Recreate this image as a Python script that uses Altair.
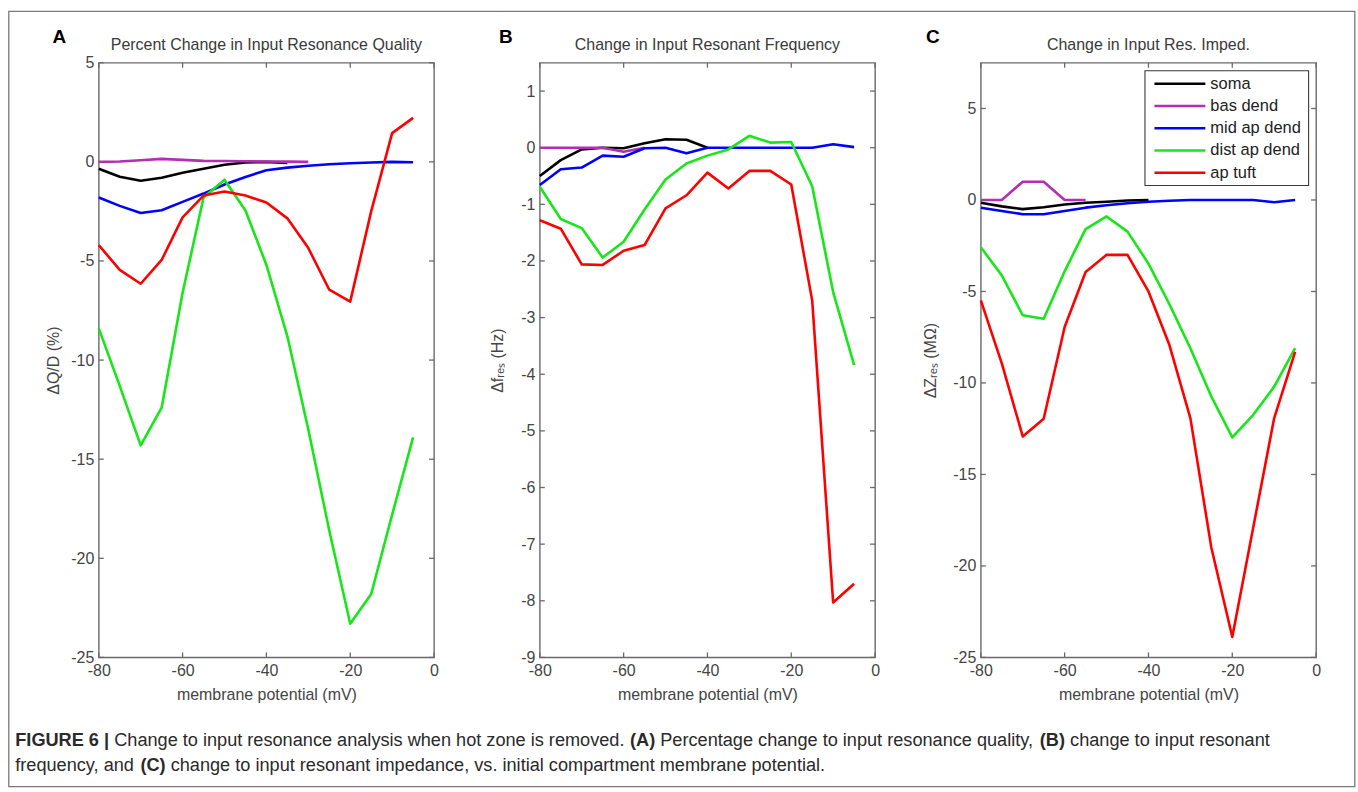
import altair as alt
import pandas as pd

# ---------------- data ----------------
V = [-80, -75, -70, -65, -60, -55, -50, -45, -40, -35, -30, -25, -20, -15, -10, -5]
SERIES = ["soma", "bas dend", "mid ap dend", "dist ap dend", "ap tuft"]
COLORS = ["#000000", "#b52cb5", "#0000ff", "#18e618", "#ff0000"]
N = None

# Panel A: percent change in input resonance quality
A_SOMA = [-0.35, -0.75, -0.95, -0.8, -0.55, -0.35, -0.15, -0.03, 0.0, -0.05, N, N, N, N, N, N]
A_BAS = [0.0, 0.02, 0.08, 0.15, 0.1, 0.05, 0.04, 0.03, 0.02, 0.01, 0.0, N, N, N, N, N]
A_MID = [-1.8, -2.22, -2.58, -2.44, -2.02, -1.6, -1.14, -0.76, -0.42, -0.29, -0.2, -0.12, -0.07, -0.03, 0.0, -0.02]
A_DIST = [-8.4, -11.3, -14.3, -12.4, -6.6, -1.8, -0.9, -2.45, -5.2, -8.8, -13.5, -18.6, -23.3, -21.8, -17.8, -13.9]
A_TUFT = [-4.2, -5.45, -6.15, -4.95, -2.8, -1.7, -1.5, -1.7, -2.05, -2.85, -4.35, -6.45, -7.05, -2.5, 1.45, 2.22]

# Panel B: change in input resonant frequency
B_SOMA = [-0.5, -0.22, -0.03, 0.0, -0.01, 0.08, 0.15, 0.14, 0.0, N, N, N, N, N, N, N]
B_BAS = [0.0, 0.0, 0.0, 0.0, -0.07, 0.0, N, N, N, N, N, N, N, N, N, N]
B_MID = [-0.66, -0.38, -0.35, -0.14, -0.16, -0.01, 0.0, -0.1, 0.0, 0.0, 0.0, 0.0, 0.0, 0.0, 0.06, 0.01]
B_DIST = [-0.69, -1.26, -1.42, -1.94, -1.66, -1.09, -0.56, -0.28, -0.14, -0.03, 0.21, 0.09, 0.1, -0.68, -2.55, -3.84]
B_TUFT = [-1.28, -1.43, -2.06, -2.07, -1.82, -1.72, -1.07, -0.84, -0.44, -0.72, -0.41, -0.41, -0.65, -2.7, -8.03, -7.7]

# Panel C: change in input resonant impedance
C_SOMA = [-0.15, -0.35, -0.5, -0.4, -0.25, -0.15, -0.1, -0.03, 0.0, N, N, N, N, N, N, N]
C_BAS = [0.0, 0.0, 1.0, 1.0, 0.0, 0.0, N, N, N, N, N, N, N, N, N, N]
C_MID = [-0.42, -0.6, -0.78, -0.78, -0.6, -0.42, -0.29, -0.18, -0.1, -0.04, 0.0, 0.0, 0.0, 0.0, -0.12, 0.0]
C_DIST = [-2.58, -4.12, -6.3, -6.49, -3.9, -1.59, -0.9, -1.73, -3.48, -5.7, -8.1, -10.74, -12.97, -11.74, -10.2, -8.1]
C_TUFT = [-5.49, -8.93, -12.92, -11.96, -6.94, -3.94, -3.0, -3.0, -5.0, -7.93, -11.92, -18.99, -23.88, -17.9, -11.92, -8.3]

X_TICKS = [-80, -60, -40, -20, 0]
A_YTICKS = [5, 0, -5, -10, -15, -20, -25]
B_YTICKS = [1, 0, -1, -2, -3, -4, -5, -6, -7, -8, -9]
C_YTICKS = [5, 0, -5, -10, -15, -20, -25]

TITLES = ["Percent Change in Input Resonance Quality",
          "Change in Input Resonant Frequency",
          "Change in Input Res. Imped."]
Y_TITLES = ["\u0394Q/D (%)", "\u0394f\u1d63\u2091\u209b (Hz)", "\u0394Z\u1d63\u2091\u209b (M\u03a9)"]
X_TITLE = "membrane potential (mV)"

CAPTION_1 = [("FIGURE 6 |", True), ("Change to input resonance analysis when hot zone is removed.", False),
             ("(A)", True), ("Percentage change to input resonance quality,", False),
             ("(B)", True), ("change to input resonant", False)]
CAPTION_2 = [("frequency, and", False), ("(C)", True),
             ("change to input resonant impedance, vs. initial compartment membrane potential.", False)]

# ---------------- styling ----------------
W, H = 336, 596
FONT = "Liberation Sans"
AXC = "#6a6a6a"
LBL = "#454545"
one = pd.DataFrame({"k": [0]})

# Arial / Liberation Sans advance widths (per 1000 em) to lay out mixed bold caption text
REG = {" ": 278, "(": 333, ")": 333, ",": 278, ".": 278, "|": 260, "-": 333,
       "a": 556, "b": 556, "c": 500, "d": 556, "e": 556, "f": 278, "g": 556, "h": 556, "i": 222,
       "j": 222, "k": 500, "l": 222, "m": 833, "n": 556, "o": 556, "p": 556, "q": 556, "r": 333,
       "s": 500, "t": 278, "u": 556, "v": 500, "w": 722, "x": 500, "y": 500, "z": 500,
       "C": 722, "P": 667}
BOLD = {" ": 278, "(": 333, ")": 333, "|": 280, "6": 556, "A": 722, "B": 722, "C": 722,
        "E": 667, "F": 611, "G": 778, "I": 278, "R": 722, "U": 722}


def tw(s, bold):
    tab = BOLD if bold else REG
    return sum(tab.get(ch, 556) for ch in s) / 1000.0


def long_df(cols):
    rows = []
    for name, vals in zip(SERIES, cols):
        for x, y in zip(V, vals):
            if y is not None:
                rows.append({"mV": x, "val": y, "series": name})
    return pd.DataFrame(rows)


def text_layer(text, x, y, size, weight="normal", color="#000000", align="left"):
    return alt.Chart(one).mark_text(
        text=text, font=FONT, fontSize=size, fontWeight=weight, color=color,
        align=align, baseline="middle").encode(x=alt.value(x), y=alt.value(y))


def panel(cols, title, ydom, yticks, ytitle, ytitle_x, letter, letter_x, extra_front=None, extra_back=None):
    xs = alt.Scale(domain=[-80, 0], nice=False, zero=False)
    ys = alt.Scale(domain=ydom, nice=False, zero=False)
    xaxis = alt.Axis(values=X_TICKS, title=X_TITLE, ticks=False, domain=False, grid=False,
                     labelFlush=False, labelPadding=5, labelExpr="datum.value + ''",
                     titleX=W / 2, titleY=37, titleAlign="center", titleBaseline="middle")
    yaxis = alt.Axis(values=yticks, title=ytitle, ticks=False, domain=False, grid=False,
                     labelFlush=False, labelPadding=5, labelExpr="datum.value + ''",
                     titleX=ytitle_x, titleY=H / 2, titleAngle=270, titleAlign="center",
                     titleBaseline="middle")
    lines = alt.Chart(long_df(cols)).mark_line(strokeWidth=2.6, strokeJoin="round").encode(
        x=alt.X("mV:Q", scale=xs, axis=xaxis, title=X_TITLE),
        y=alt.Y("val:Q", scale=ys, axis=yaxis, title=ytitle),
        color=alt.Color("series:N", scale=alt.Scale(domain=SERIES, range=COLORS), legend=None,
                        sort=SERIES),
    )
    xt = pd.DataFrame({"t": X_TICKS})
    yt = pd.DataFrame({"t": yticks})
    tick = dict(color=AXC, strokeWidth=1.3)
    tb = alt.Chart(xt).mark_rule(**tick).encode(x=alt.X("t:Q", scale=xs, axis=xaxis, title=X_TITLE),
                                                y=alt.value(H), y2=alt.value(H - 5))
    tt = alt.Chart(xt).mark_rule(**tick).encode(x=alt.X("t:Q", scale=xs, axis=xaxis, title=X_TITLE),
                                                y=alt.value(0), y2=alt.value(5))
    tl = alt.Chart(yt).mark_rule(**tick).encode(y=alt.Y("t:Q", scale=ys, axis=yaxis, title=ytitle),
                                                x=alt.value(0), x2=alt.value(5))
    tr = alt.Chart(yt).mark_rule(**tick).encode(y=alt.Y("t:Q", scale=ys, axis=yaxis, title=ytitle),
                                                x=alt.value(W), x2=alt.value(W - 5))
    lab = text_layer(letter, letter_x, -26, 19, weight="bold")
    ttl = text_layer(title, W / 2, -18, 16, color="#3a3a3a", align="center")
    layers = (extra_back or []) + [lines, tb, tt, tl, tr, lab, ttl] + (extra_front or [])
    return alt.layer(*layers).properties(width=W, height=H)


# ---- figure border and caption (drawn from panel A, positioned relative to its plot origin) ----
OX, OY = 97.7, 61.0   # page position of panel A plot origin
border = alt.Chart(one).mark_rect(fill="#ffffff", fillOpacity=0, stroke="#7a7a7a", strokeWidth=1.3).encode(
    x=alt.value(7.5 - OX), x2=alt.value(1356.5 - OX), y=alt.value(9.5 - OY), y2=alt.value(786.5 - OY))

CAP_SIZE = 18.2
caption_layers = []
for segs, ypage in ((CAPTION_1, 741), (CAPTION_2, 766)):
    cx = 14.0 - OX
    for s, b in segs:
        caption_layers.append(text_layer(s, cx, ypage - OY, CAP_SIZE,
                                         weight="bold" if b else "normal", color="#2a2a2a"))
        cx += (tw(s, b) + tw(" ", False)) * CAP_SIZE

# ---- legend in panel C ----
legend_layers = [alt.Chart(one).mark_rect(fill="#ffffff", stroke="#3a3a3a", strokeWidth=1.1).encode(
    x=alt.value(164.5), x2=alt.value(328.5), y=alt.value(8), y2=alt.value(123))]
for i, (name, col) in enumerate(zip(SERIES, COLORS)):
    yy = 21 + i * 22.3
    legend_layers.append(alt.Chart(one).mark_rule(color=col, strokeWidth=2.6).encode(
        x=alt.value(174), x2=alt.value(225), y=alt.value(yy)))
    legend_layers.append(text_layer(name, 230, yy, 16.5, color="#222222"))

pA = panel([A_SOMA, A_BAS, A_MID, A_DIST, A_TUFT], TITLES[0], [-25, 5], A_YTICKS, Y_TITLES[0], -45, "A", -46.5,
           extra_front=caption_layers, extra_back=[border])
pB = panel([B_SOMA, B_BAS, B_MID, B_DIST, B_TUFT], TITLES[1], [-9, 1.5], B_YTICKS, Y_TITLES[1], -42, "B", -41)
pC = panel([C_SOMA, C_BAS, C_MID, C_DIST, C_TUFT], TITLES[2], [-25, 7.5], C_YTICKS, Y_TITLES[2], -50, "C", -55,
           extra_front=legend_layers)

chart = alt.HConcatChart(hconcat=[pA, pB, pC], spacing=106, bounds="flush").properties(
    padding={"left": 7, "top": 9, "right": 1, "bottom": 5},
    background="#ffffff",
).configure_view(stroke=AXC, strokeWidth=1.4).configure_axis(
    labelFont=FONT, labelFontSize=16, labelColor=LBL,
    titleFont=FONT, titleFontSize=16, titleFontWeight="normal", titleColor=LBL,
)

chart.save("out.html", embed_options={"renderer": "svg", "actions": False})
